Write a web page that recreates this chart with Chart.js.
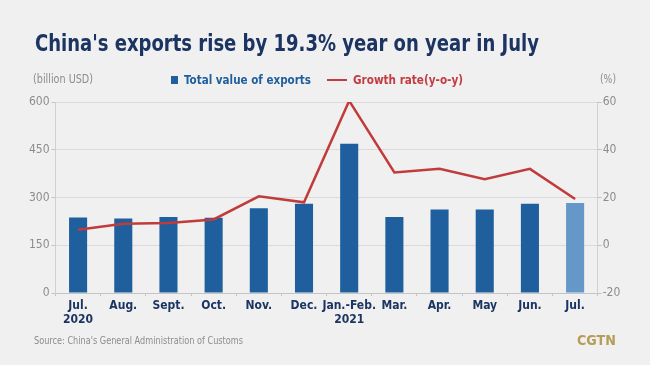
<!DOCTYPE html>
<html>
<head>
<meta charset="utf-8">
<script src="https://cdn.jsdelivr.net/npm/chart.js@4"></script>
<style>
  html, body { margin: 0; padding: 0; background: #f0f0f0; }
  #wrap { position: relative; width: 650px; height: 365px; overflow: hidden; font-family: "DejaVu Sans Condensed", "Liberation Sans", sans-serif; }
  #chart { position: absolute; left: 0; top: 0; }
  .txt { position: absolute; white-space: nowrap; line-height: 1; transform-origin: 0 0; }
  #title { left: 35px; top: 32px; font-size: 23px; font-weight: bold; color: #1b3461; }
  .unit { font-size: 11.5px; color: #8c8c8c; top: 74px; }
  .leg { font-size: 12.5px; font-weight: bold; top: 74px; }
  #source { left: 34px; top: 335px; font-size: 11px; color: #8c8c8c; }
  #logo { left: 577px; top: 333px; font-size: 14px; font-weight: bold; color: #b59c58; }
  .box { position: absolute; }
</style>
</head>
<body>
<div id="wrap">
  <canvas id="chart" width="650" height="365"></canvas>
  <div class="txt" id="title" data-w="504">China's exports rise by 19.3% year on year in July</div>
  <div class="txt unit" style="left:33px" data-w="60">(billion USD)</div>
  <div class="txt unit" style="left:600px" data-w="16">(%)</div>
  <div class="box" style="left:171px;top:76px;width:7px;height:8px;background:#1f5f9e"></div>
  <div class="txt leg" style="left:184px;color:#1f5e9c" data-w="127">Total value of exports</div>
  <div class="box" style="left:327px;top:79px;width:20px;height:2px;background:#c23b40"></div>
  <div class="txt leg" style="left:353px;color:#c23b40" data-w="110">Growth rate(y-o-y)</div>
  <div class="txt" id="source" data-w="209">Source: China's General Administration of Customs</div>
  <div class="txt" id="logo" data-w="39">CGTN</div>
</div>
<script>
// values
const months = [["Jul.", "2020"], "Aug.", "Sept.", "Oct.", "Nov.", "Dec.", ["Jan.-Feb.", "2021"], "Mar.", "Apr.", "May", "Jun.", "Jul."];
const exportValues = [237, 234, 239, 236, 266, 280, 469, 239, 262, 262, 280, 283];
const growthRates = [6.5, 9.0, 9.3, 10.8, 20.5, 18.0, 60.5, 30.5, 32.0, 27.7, 32.0, 19.4];
const leftTicks = [0, 150, 300, 450, 600];
const rightTicks = [-20, 0, 20, 40, 60];

// squeeze the html labels to the narrow widths of the original lettering
document.querySelectorAll("[data-w]").forEach(function (el) {
    const w = el.getBoundingClientRect().width;
    el.style.transform = "scaleX(" + (parseFloat(el.getAttribute("data-w")) / w) + ")";
});

const FONT = '"DejaVu Sans Condensed", "Liberation Sans", sans-serif';
const barColors = exportValues.map(function (v, i) {
    return i === exportValues.length - 1 ? "#6598c9" : "#1f5f9e";
});

const ctx = document.getElementById("chart").getContext("2d");
new Chart(ctx, {
    type: "bar",
    data: {
        labels: months,
        datasets: [
            {
                type: "line",
                label: "Growth rate(y-o-y)",
                data: growthRates,
                yAxisID: "y1",
                borderColor: "#c23b3b",
                borderWidth: 2.5,
                pointRadius: 0,
                tension: 0,
                order: 0,
            },
            {
                label: "Total value of exports",
                data: exportValues,
                yAxisID: "y",
                backgroundColor: barColors,
                barPercentage: 0.4,
                categoryPercentage: 1,
                order: 1,
            },
        ],
    },
    options: {
        responsive: false,
        animation: false,
        layout: { padding: { top: 102, left: 0, right: 0, bottom: 0 } },
        plugins: { legend: { display: false }, tooltip: { enabled: false } },
        scales: {
            x: {
                offset: true,
                grid: { display: true, drawOnChartArea: false, offset: true, tickLength: 3, color: "#c4c4c4" },
                border: { color: "#c4c4c4" },
                ticks: { color: "#1b3461", padding: 3, maxRotation: 0, autoSkip: false, font: { family: FONT, size: 12, weight: "bold", lineHeight: 1.15 } },
                afterFit: function (scale) { scale.height = 72; },
            },
            y: {
                position: "left",
                min: 0,
                max: 600,
                afterBuildTicks: function (scale) { scale.ticks = leftTicks.map(function (v) { return { value: v }; }); },
                grid: { color: "#dadada", tickLength: 4, tickColor: "#c4c4c4" },
                border: { color: "#d0d0d0" },
                ticks: { color: "#8c8c8c", padding: 2, font: { family: FONT, size: 12 } },
                afterFit: function (scale) { scale.width = 55.5; },
            },
            y1: {
                position: "right",
                min: -20,
                max: 60,
                afterBuildTicks: function (scale) { scale.ticks = rightTicks.map(function (v) { return { value: v }; }); },
                grid: { drawOnChartArea: false, tickLength: 4, color: "#c4c4c4" },
                border: { color: "#d0d0d0" },
                ticks: { color: "#8c8c8c", padding: 1, font: { family: FONT, size: 12 } },
                afterFit: function (scale) { scale.width = 52.3; },
            },
        },
    },
});
</script>
</body>
</html>
